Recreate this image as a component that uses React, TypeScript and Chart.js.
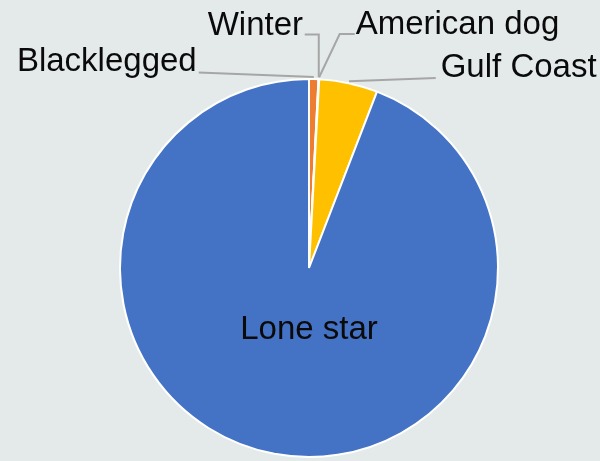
import React, { useEffect, useRef } from "react";
import { Chart, registerables } from "chart.js";

Chart.register(...registerables);

const categories = ["Blacklegged", "Winter", "American dog", "Gulf Coast", "Lone star"];
const shares = [0.8, 0.03, 0.03, 5.0, 94.14];
const sliceColors = ["#ED7D31", "#A5A5A5", "#5B9BD5", "#FFC000", "#4472C4"];

// label placement relative to the pie centre (px)
type Layout = {
  align: CanvasTextAlign;
  dx: number;
  dy: number;
  leader?: number[][];
  elbow?: boolean;
};
const labelLayout: Layout[] = [
  { align: "right", dx: -112.3, dy: -197, leader: [[-110.3, -195.5]] },
  { align: "right", dx: -6, dy: -233, leader: [[-4.3, -233.5]], elbow: true },
  { align: "left", dx: 46.7, dy: -234.5, leader: [[45.7, -234], [30.7, -234]] },
  { align: "left", dx: 131.7, dy: -191, leader: [[126.7, -190]] },
  { align: "center", dx: 0, dy: 71.3 },
];

const BG = "#E4EAEA";

const labelPlugin = {
  id: "sliceLabels",
  afterDatasetsDraw(chart: any) {
    const ctx: CanvasRenderingContext2D = chart.ctx;
    const meta = chart.getDatasetMeta(0);
    meta.data.forEach((arc: any, i: number) => {
      const { x, y, startAngle, endAngle, outerRadius } = arc.getProps(
        ["x", "y", "startAngle", "endAngle", "outerRadius"],
        true
      );
      const mid = (startAngle + endAngle) / 2;
      const L = labelLayout[i];
      ctx.save();
      if (L.leader) {
        const ex = x + Math.cos(mid) * (outerRadius + 2);
        const ey = y + Math.sin(mid) * (outerRadius + 2);
        const pts = L.leader.map(([px, py]) => [x + px, y + py]);
        if (L.elbow) pts.push([ex, pts[pts.length - 1][1]]);
        pts.push([ex, ey]);
        ctx.strokeStyle = "#A6A6A6";
        ctx.lineWidth = 2;
        ctx.beginPath();
        pts.forEach(([px, py], k) => (k === 0 ? ctx.moveTo(px, py) : ctx.lineTo(px, py)));
        ctx.stroke();
      }
      ctx.font = '33px "Liberation Sans", Arial, sans-serif';
      ctx.fillStyle = "#0A0A0A";
      ctx.textAlign = L.align;
      ctx.textBaseline = "alphabetic";
      ctx.fillText(categories[i], x + L.dx, y + L.dy);
      ctx.restore();
    });
  },
};

export default function App() {
  const ref = useRef<HTMLCanvasElement>(null);
  useEffect(() => {
    document.body.style.margin = "0";
    document.body.style.background = BG;
    const chart = new Chart(ref.current!, {
      type: "pie",
      data: {
        labels: categories,
        datasets: [
          {
            data: shares,
            backgroundColor: sliceColors,
            borderColor: "#FFFFFF",
            borderWidth: 2,
            hoverOffset: 0,
          },
        ],
      },
      options: {
        animation: false,
        responsive: false,
        devicePixelRatio: 1,
        layout: { padding: { top: 78, bottom: 3, left: 119, right: 101 } },
        plugins: {
          legend: { display: false },
          tooltip: { enabled: false },
        },
        events: [],
      },
      plugins: [labelPlugin],
    });
    return () => chart.destroy();
  }, []);
  return (
    <div style={{ position: "fixed", left: 0, top: 0, width: 600, height: 461, background: BG }}>
      <canvas ref={ref} width={600} height={461} style={{ display: "block" }} />
    </div>
  );
}
